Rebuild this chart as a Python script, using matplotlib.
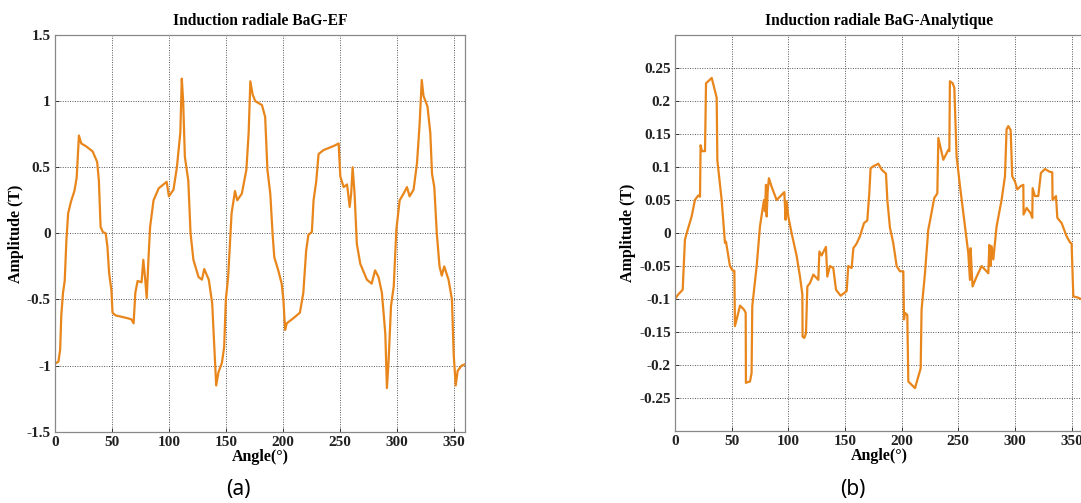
import matplotlib
matplotlib.use("Agg")
import matplotlib.pyplot as plt
import numpy as np

# Panel (a): finite element radial induction
angle_ef = [0, 3, 4.5, 5.5, 7, 8.5, 10, 11.5, 14, 17, 19, 20.2, 21, 23, 27, 33, 37, 38.5,
            40, 42, 44.5, 46, 47.5, 49.5, 50.5, 53, 63, 67, 69, 70.5, 72.5, 76, 77.5, 79,
            80.5, 82, 83.5, 86.5, 91, 98, 100, 104, 107, 110, 111.3, 112.5, 114, 117, 119,
            121.5, 126, 129, 131, 135, 138, 140, 141.5, 143.5, 146.5, 148.5, 150, 152, 155,
            158, 160, 164, 168, 170, 171.5, 173.5, 175.8, 181.7, 184.5, 186.5, 189, 191,
            192.5, 196, 199, 200.5, 202, 203.5, 209.5, 215, 218, 220.5, 222.5, 225.5, 227,
            229.3, 231.4, 235.8, 244.5, 249, 250.5, 253.4, 256.4, 258.7, 260, 261.3, 263,
            265, 268, 273.8, 278, 281, 284, 287, 290, 291.4, 292.9, 295, 297.4, 299.7,
            302.6, 306, 309, 311.3, 314.8, 317.8, 320, 322, 323.5, 327, 329.5, 331, 333,
            335.2, 337.6, 339.6, 341.7, 345.5, 348.5, 350, 351.8, 353.5, 357, 360]
b_ef = [-0.985, -0.97, -0.88, -0.62, -0.45, -0.36, -0.05, 0.15, 0.24, 0.32, 0.42, 0.62, 0.74,
        0.68, 0.66, 0.62, 0.54, 0.40, 0.05, 0.01, 0.0, -0.1, -0.3, -0.43, -0.6, -0.62, -0.64,
        -0.65, -0.68, -0.45, -0.36, -0.37, -0.2, -0.33, -0.49, -0.2, 0.05, 0.25, 0.34, 0.39,
        0.28, 0.33, 0.5, 0.76, 1.17, 1.0, 0.58, 0.40, 0.0, -0.2, -0.33, -0.35, -0.27, -0.35,
        -0.53, -0.88, -1.15, -1.05, -0.98, -0.86, -0.5, -0.33, 0.15, 0.32, 0.25, 0.30, 0.48,
        0.76, 1.15, 1.05, 1.0, 0.97, 0.88, 0.48, 0.30, 0.0, -0.18, -0.28, -0.38, -0.5, -0.73,
        -0.68, -0.64, -0.6, -0.45, -0.13, -0.01, 0.01, 0.25, 0.39, 0.60, 0.63, 0.66, 0.68,
        0.43, 0.35, 0.37, 0.2, 0.3, 0.5, 0.3, -0.08, -0.23, -0.35, -0.38, -0.28, -0.33, -0.45,
        -0.76, -1.17, -0.96, -0.55, -0.4, 0.03, 0.25, 0.30, 0.35, 0.28, 0.33, 0.53, 0.81, 1.16,
        1.04, 0.96, 0.76, 0.45, 0.35, 0.0, -0.25, -0.32, -0.25, -0.35, -0.5, -0.91, -1.15,
        -1.04, -1.0, -0.99]

# Panel (b): analytical radial induction
angle_an = [0, 2.9, 6.8, 8.8, 10.9, 14.7, 17.6, 20.6, 22.1, 22.6, 23.8, 26.5, 27.4, 29.4,
            32.4, 36.8, 37.4, 41.2, 44.1, 45, 48.5, 50.9, 52.4, 52.9, 54.4, 57.4, 60.9, 62.4,
            62.6, 64.1, 66.2, 67.6, 68.2, 72.1, 75, 78.5, 79.4, 80.3, 80.9, 81.8, 82.9, 85.3,
            89.7, 96.5, 97.6, 98.5, 100, 102.9, 107.4, 110.3, 112.4, 112.6, 114.1, 115.6,
            116.8, 119.1, 122.1, 126.5, 127.4, 129.4, 133.2, 134.4, 136.8, 139.7, 142.1,
            146.2, 151.5, 152.9, 155.9, 157.4, 160.3, 163.2, 166.8, 169.7, 171.5, 172.6, 175,
            179.4, 182.4, 186.2, 187.4, 189.7, 192.6, 195.6, 198.5, 201.5, 202.1, 202.9, 205,
            205.9, 208.8, 211.8, 216.8, 217.6, 220.6, 223.5, 225, 228.8, 231.5, 232.4, 236.8,
            241.2, 242.1, 242.6, 245, 246.5, 248.5, 251.5, 255.9, 258.8, 260.3, 260.9, 261.8,
            262.6, 266.2, 270.6, 276.5, 277.4, 278.5, 279.4, 280.9, 283.8, 288.2, 291.2, 292.6,
            294.1, 296.2, 297.6, 300, 302.1, 305, 307.4, 307.6, 310.3, 313.8, 315.3, 315.6,
            317.6, 320.6, 322.9, 326.5, 330.3, 332.9, 333.2, 336.2, 337.4, 341.2, 345.6, 348.5,
            350, 351.5, 355.9, 358.2, 360]
b_an = [-0.1, -0.093, -0.086, -0.01, 0.003, 0.025, 0.05, 0.057, 0.055, 0.133, 0.124, 0.124,
        0.227, 0.23, 0.235, 0.205, 0.11, 0.05, -0.015, -0.013, -0.05, -0.057, -0.057, -0.141,
        -0.131, -0.11, -0.116, -0.121, -0.227, -0.226, -0.225, -0.212, -0.111, -0.05, 0.01,
        0.05, 0.033, 0.073, 0.025, 0.063, 0.083, 0.07, 0.05, 0.062, 0.02, 0.048, 0.025, 0.0,
        -0.035, -0.066, -0.093, -0.157, -0.159, -0.152, -0.081, -0.076, -0.063, -0.071,
        -0.028, -0.034, -0.021, -0.066, -0.05, -0.053, -0.086, -0.095, -0.088, -0.05, -0.053,
        -0.023, -0.016, -0.005, 0.015, 0.019, 0.061, 0.098, 0.101, 0.105, 0.096, 0.09, 0.05,
        0.008, -0.015, -0.05, -0.058, -0.058, -0.131, -0.121, -0.124, -0.225, -0.23, -0.235,
        -0.205, -0.116, -0.061, 0.005, 0.018, 0.053, 0.06, 0.144, 0.111, 0.126, 0.124, 0.23,
        0.227, 0.22, 0.116, 0.071, 0.01, -0.03, -0.071, -0.023, -0.056, -0.081, -0.066, -0.05,
        -0.061, -0.018, -0.05, -0.02, -0.04, 0.01, 0.05, 0.086, 0.157, 0.162, 0.156, 0.086,
        0.078, 0.066, 0.071, 0.073, 0.028, 0.038, 0.03, 0.023, 0.068, 0.056, 0.056, 0.091,
        0.097, 0.093, 0.092, 0.05, 0.056, 0.023, 0.015, -0.005, -0.014, -0.016, -0.096,
        -0.098, -0.1, -0.1]

xticks = [0, 50, 100, 150, 200, 250, 300, 350]
yticks_ef = [-1.5, -1, -0.5, 0, 0.5, 1, 1.5]
yticks_an = [-0.25, -0.2, -0.15, -0.1, -0.05, 0, 0.05, 0.1, 0.15, 0.2, 0.25]

color = "#E8861C"
serif = ["Liberation Serif", "DejaVu Serif"]


def style_axis(ax, yticks, ylim, title):
    ax.set_xlim(0, 360)
    ax.set_ylim(*ylim)
    ax.set_xticks(xticks)
    ax.set_yticks(yticks)
    ax.set_xticklabels([str(t) for t in xticks])
    ax.set_yticklabels(["{:g}".format(t) for t in yticks])
    for lab in ax.get_xticklabels() + ax.get_yticklabels():
        lab.set_fontfamily(serif)
        lab.set_fontweight("bold")
        lab.set_fontsize(11)
    ax.tick_params(direction="in", length=3, width=0.6, colors="#222222", pad=3)
    ax.grid(True, linestyle=(0, (1, 1.5)), color="#555555", linewidth=0.7)
    for sp in ax.spines.values():
        sp.set_color("#888888")
        sp.set_linewidth(0.9)
    ax.set_title(title, family=serif, fontweight="bold", fontsize=11.2, pad=7)
    ax.set_xlabel("Angle(°)", family=serif, fontweight="bold", fontsize=11.5, labelpad=0)
    ax.set_ylabel("Amplitude (T)", family=serif, fontweight="bold", fontsize=11.5, labelpad=2)


fig = plt.figure(figsize=(10.81, 5.03), dpi=100)
ax1 = fig.add_axes([0.0509, 0.1417, 0.3793, 0.7887])
ax2 = fig.add_axes([0.6244, 0.1431, 0.3774, 0.7873])

ax1.plot(angle_ef, b_ef, color=color, linewidth=1.6)
style_axis(ax1, yticks_ef, (-1.5, 1.5), "Induction radiale BaG-EF")

ax2.plot(angle_an, b_an, color=color, linewidth=1.6)
style_axis(ax2, yticks_an, (-0.3, 0.3), "Induction radiale BaG-Analytique")

fig.text(238 / 1081, 1 - 490 / 503, "(a)", ha="center", va="center", fontsize=15,
         family="Noto Sans")
fig.text(853 / 1081, 1 - 490 / 503, "(b)", ha="center", va="center", fontsize=15,
         family="Noto Sans")

fig.savefig("out.png", dpi=100)
